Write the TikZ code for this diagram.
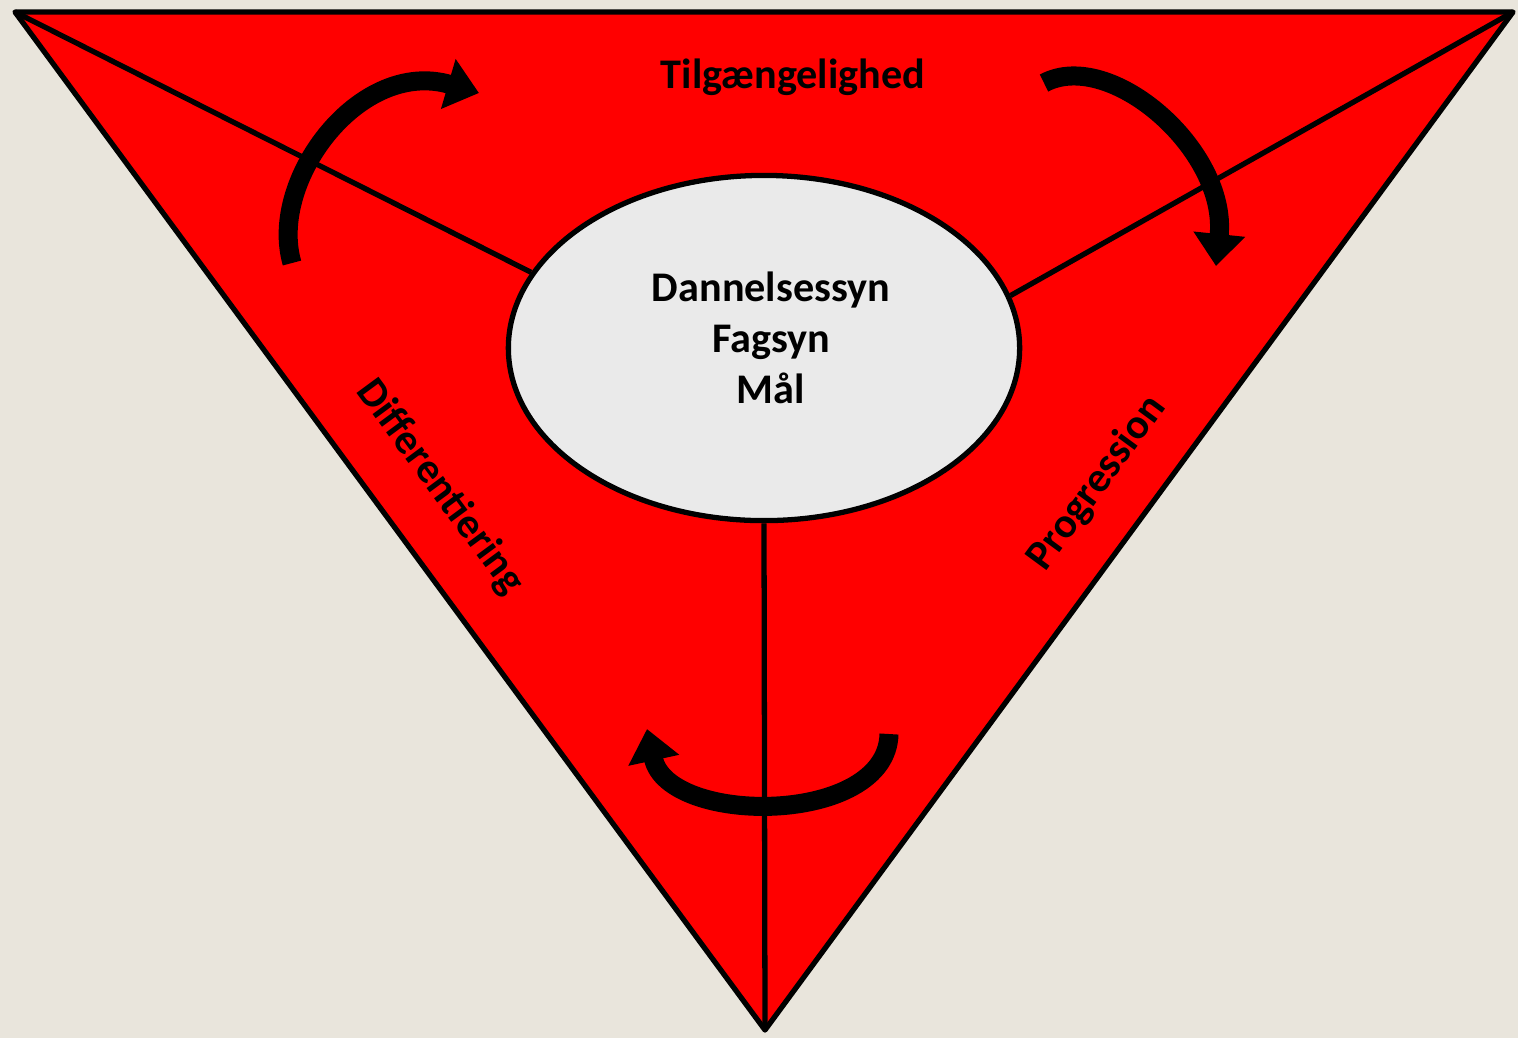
\documentclass[tikz,border=0pt]{standalone}
\usepackage{fontspec}
\setmainfont{Carlito}
\usetikzlibrary{positioning, arrows.meta, shapes.geometric}
\definecolor{canvasbg}{HTML}{E9E5DC}
\definecolor{corefill}{HTML}{EAEAEA}
\definecolor{wedgered}{HTML}{FF0000}

\begin{document}
\begin{tikzpicture}[
    x=0.01cm, y=-0.01cm,
    font=\fontsize{12}{14.5}\selectfont\bfseries,
    edge/.style={draw=black, line width=1.5pt, line join=round},
    core/.style={ellipse, draw=black, line width=1.5pt, fill=corefill, minimum width=5.11cm, minimum height=3.45cm, inner sep=0pt},
    sidelabel/.style={inner sep=1pt, text=black},
    turnarrow/.style={line width=0.19cm, -{Triangle[width=0.5cm, length=0.32cm]}}
]

% ==================== BACKGROUND ====================
\fill[canvasbg] (0,0) rectangle (1518,1038);
\useasboundingbox (0,0) rectangle (1518,1038);

% ==================== TRIANGLE ====================
\coordinate (topleft) at (15,12);
\coordinate (topright) at (1513,12);
\coordinate (bottom) at (765,1030);
\filldraw[edge, fill=wedgered] (topleft) -- (topright) -- (bottom) -- cycle;

% ==================== CENTRE ====================
\node[core] (centre) at (764,348) {};
\node[align=center, inner sep=0pt] (coretext) at (771,338) {Dannelsessyn\\Fagsyn\\Mål};

\draw[edge] (topleft) -- (centre.162.7);
\draw[edge] (topright) -- (centre.12.7);
\draw[edge] (bottom) -- (centre.south);

% ==================== LABELS ====================
\node[sidelabel] (access) at (793,77) {Tilgængelighed};
\node[sidelabel, rotate=-53.6] (differ) at (440,487) {Differentiering};
\node[sidelabel, rotate=53.7] (progress) at (1097,483) {Progression};

% ==================== TURNING ARROWS ====================
\coordinate (leftstart) at (292,263);
\coordinate (leftend) at (479,93);
\coordinate (rightstart) at (1044,83);
\coordinate (rightend) at (1216,266);
\coordinate (lowstart) at (889,734);
\coordinate (lowend) at (647,729);

\draw[turnarrow] (leftstart) .. controls (268,180) and (360,58) .. (leftend);
\draw[turnarrow] (rightstart) .. controls (1110,48) and (1228,150) .. (rightend);
\draw[turnarrow] (lowstart) .. controls (887,826) and (668,826) .. (lowend);

\end{tikzpicture}
\end{document}
